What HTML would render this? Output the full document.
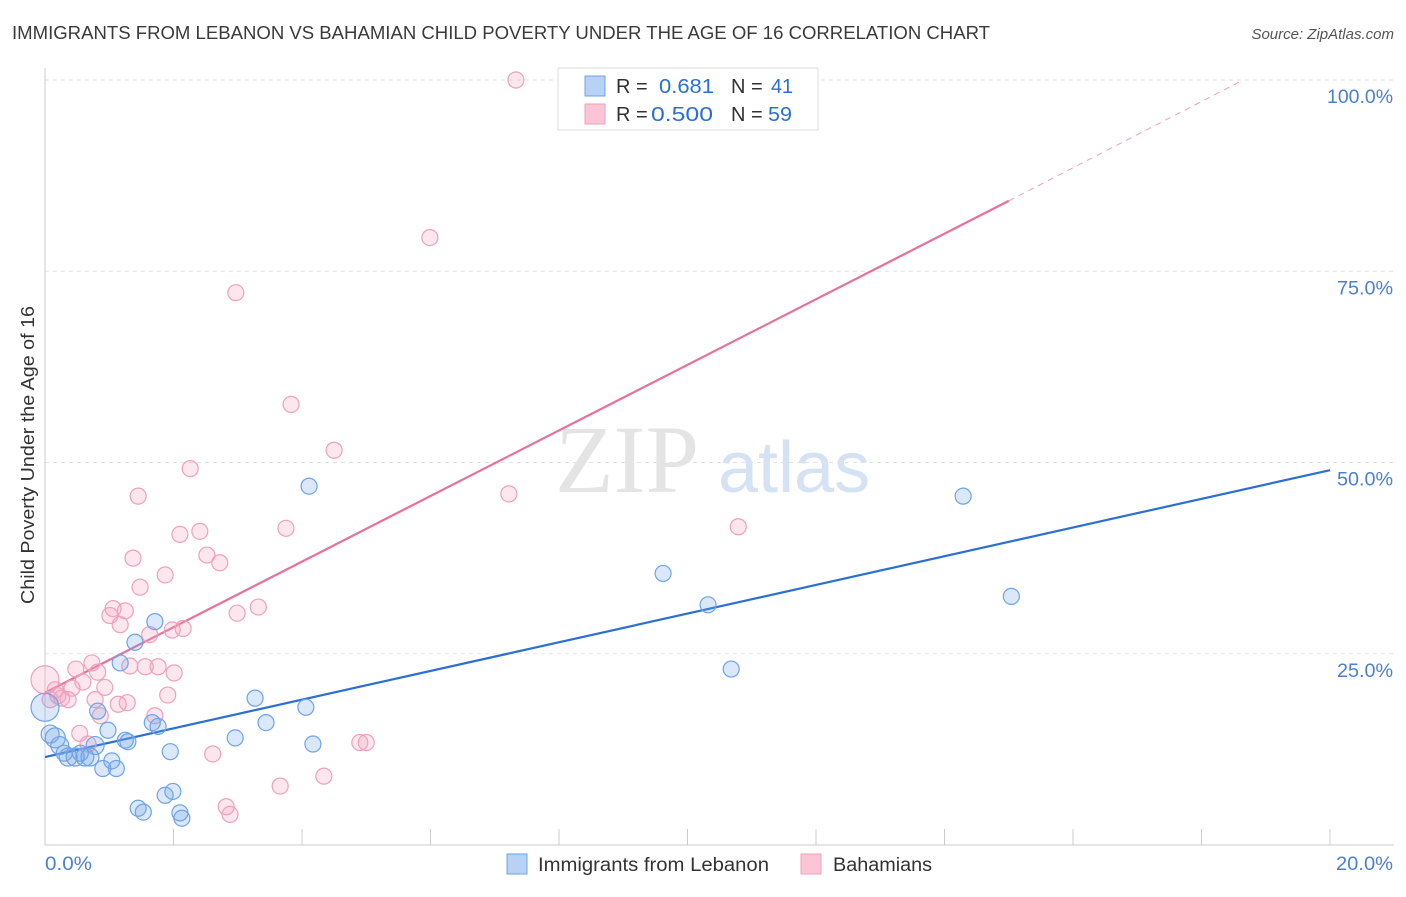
<!DOCTYPE html>
<html><head><meta charset="utf-8"><style>
body{margin:0;background:#fff;font-family:"Liberation Sans",sans-serif;}
</style></head><body>
<svg width="1406" height="892" xmlns="http://www.w3.org/2000/svg" font-family="Liberation Sans, sans-serif">
<text x="12" y="39" font-size="18" fill="#3a3a3a" textLength="978" lengthAdjust="spacingAndGlyphs">IMMIGRANTS FROM LEBANON VS BAHAMIAN CHILD POVERTY UNDER THE AGE OF 16 CORRELATION CHART</text>
<text x="1394" y="39" font-size="15" fill="#555" font-style="italic" text-anchor="end">Source: ZipAtlas.com</text>
<text x="34" y="455" font-size="18" fill="#333" transform="rotate(-90 34 455)" text-anchor="middle" textLength="298" lengthAdjust="spacingAndGlyphs">Child Poverty Under the Age of 16</text>
<text x="555" y="492" font-size="96" fill="#e4e4e4" font-family="Liberation Serif, serif">ZIP</text>
<text x="718" y="492" font-size="72" fill="#d4e2f4">atlas</text>
<g id="grid"></g><g id="axes"></g><g id="lines"></g><g id="pts"></g>
<g>
<rect x="558" y="68" width="260" height="62" fill="#fff" stroke="#ddd"/>
<rect x="585" y="76" width="20" height="20" fill="#b8d2f5" stroke="#6ea3e8"/>
<rect x="585" y="104" width="20" height="20" fill="#fbc5d6" stroke="#f0a0bb"/>
<text x="616" y="93" font-size="20" fill="#333">R =</text>
<text x="659" y="93" font-size="20" fill="#2a6fd6" textLength="55" lengthAdjust="spacingAndGlyphs">0.681</text>
<text x="731" y="93" font-size="20" fill="#333">N =</text>
<text x="771" y="93" font-size="20" fill="#2a6fd6" textLength="22" lengthAdjust="spacingAndGlyphs">41</text>
<text x="616" y="121" font-size="20" fill="#333">R =</text>
<text x="651" y="121" font-size="20" fill="#2a6fd6" textLength="62" lengthAdjust="spacingAndGlyphs">0.500</text>
<text x="731" y="121" font-size="20" fill="#333">N =</text>
<text x="768" y="121" font-size="20" fill="#2a6fd6" textLength="24" lengthAdjust="spacingAndGlyphs">59</text>
</g>
<g>
<rect x="507" y="854" width="20" height="20" fill="#b8d2f5" stroke="#6ea3e8"/>
<text x="538" y="871" font-size="19" fill="#333" textLength="231" lengthAdjust="spacingAndGlyphs">Immigrants from Lebanon</text>
<rect x="801" y="854" width="20" height="20" fill="#fbc5d6" stroke="#f0a0bb"/>
<text x="833" y="871" font-size="19" fill="#333" textLength="99" lengthAdjust="spacingAndGlyphs">Bahamians</text>
</g>
<text x="45" y="870" font-size="19" fill="#4a7fd4" textLength="47" lengthAdjust="spacingAndGlyphs">0.0%</text>
<text x="1393" y="870" font-size="19" fill="#4a7fd4" text-anchor="end" textLength="57" lengthAdjust="spacingAndGlyphs">20.0%</text>
</svg>
<script>
const yTicks=[25,50,75,100];
const xTickVals=[0,2,4,6,8,10,12,14,16,18,20];
const blueX=[0,0.16,0.23,0.36,0.47,0.62,0.7,0.78,0.82,0.9,0.98,1.04,1.11,1.17,1.25,1.29,1.4,1.45,1.53,1.67,1.71,1.76,1.87,1.95,1.99,2.1,2.13,2.96,3.27,3.44,4.06,4.11,4.17,9.62,10.32,10.68,14.29,15.04,0.08,0.3,0.55];
const blueY=[18,14,13,11.5,11.5,11.5,11.5,13,17.5,10,15,11,10,23.8,13.7,13.5,26.5,4.8,4.3,16,29.2,15.5,6.5,12.2,7,4.2,3.5,14,19.2,16,18,46.9,13.2,35.5,31.4,23,45.6,32.5,14.5,12,12];
const blueR=[14,10,9,9,9,9,9,9,8,8,8,8,8,8,8,8,8,8,8,8,8,8,8,8,8,8,8,8,8,8,8,8,8,8,8,8,8,8,9,8,8];
const pinkX=[0,0.08,0.16,0.26,0.36,0.42,0.48,0.54,0.59,0.67,0.73,0.78,0.82,0.86,0.93,1.01,1.06,1.14,1.17,1.25,1.28,1.32,1.37,1.45,1.48,1.56,1.63,1.71,1.76,1.87,1.91,1.98,2.01,2.1,2.15,2.26,2.41,2.52,2.61,2.72,2.82,2.88,2.97,2.99,3.32,3.66,3.75,3.83,4.34,4.5,4.9,5.0,5.99,7.22,7.33,10.79,0.2];
const pinkY=[21.6,19,20.3,19.2,19,20.5,23,14.6,21.3,13.2,23.8,19,22.6,16.9,20.6,30,30.9,18.4,28.8,30.6,18.6,23.4,37.5,45.6,33.7,23.3,27.5,16.9,23.3,35.3,19.6,28.1,22.5,40.6,28.3,49.2,41,37.9,11.9,36.9,5,4,72.2,30.3,31.1,7.7,41.4,57.6,9,51.6,13.4,13.4,79.4,45.9,100,41.6,19.5];
const X0=45,X1=1330,Y0=845,PY=7.65;
const sx=v=>X0+(X1-X0)*v/20, sy=v=>Y0-v*PY;
const NS="http://www.w3.org/2000/svg";
function mk(t,a,p){const e=document.createElementNS(NS,t);for(const k in a)e.setAttribute(k,a[k]);document.getElementById(p).appendChild(e);return e;}
yTicks.forEach(v=>{
 const g=mk('line',{x1:X0,x2:1394,y1:sy(v),y2:sy(v),stroke:'#e2e2e2','stroke-dasharray':'4 4'},'grid');
 
 
 const t=mk('text',{x:1393,y:sy(v)+23,'font-size':19,fill:'#4a7fd4','text-anchor':'end',textLength:v==100?66:56,lengthAdjust:'spacingAndGlyphs'},'grid');
 t.textContent=v.toFixed(1)+'%';
 
 
});
const ax=mk('line',{x1:X0,x2:X0,y1:68,y2:Y0,stroke:'#ccc'},'axes');


const bx=mk('line',{x1:X0,x2:1394,y1:Y0,y2:Y0,stroke:'#ccc'},'axes');


xTickVals.forEach(v=>{
 const l=mk('line',{x1:sx(v),x2:sx(v),y1:Y0-16,y2:Y0,stroke:'#ccc'},'axes');
 
 
});
const bl=mk('line',{x1:sx(0),y1:sy(11.5),x2:sx(20),y2:sy(49),stroke:'#2a6fd6','stroke-width':2.2},'lines');


const pl=mk('line',{x1:sx(0),y1:sy(19.9),x2:sx(15),y2:sy(84.2),stroke:'#e8709a','stroke-width':2.2},'lines');


const pd=mk('line',{x1:sx(15),y1:sy(84.2),x2:sx(18.65),y2:sy(100),stroke:'#f0a0bb','stroke-width':1,'stroke-dasharray':'6 5'},'lines');


pinkX.forEach((v,i)=>{
 const c=mk('circle',{cx:sx(v),cy:sy(pinkY[i]),r:i==0?14:8,fill:'rgba(244,160,188,0.25)',stroke:'#f0a0bb','stroke-width':1.2},'pts');
 
 
});
blueX.forEach((v,i)=>{
 const c=mk('circle',{cx:sx(v),cy:sy(blueY[i]),r:blueR[i],fill:'rgba(110,163,232,0.25)',stroke:'#6ea3e8','stroke-width':1.2},'pts');
 
 
});
</script>
</body></html>
